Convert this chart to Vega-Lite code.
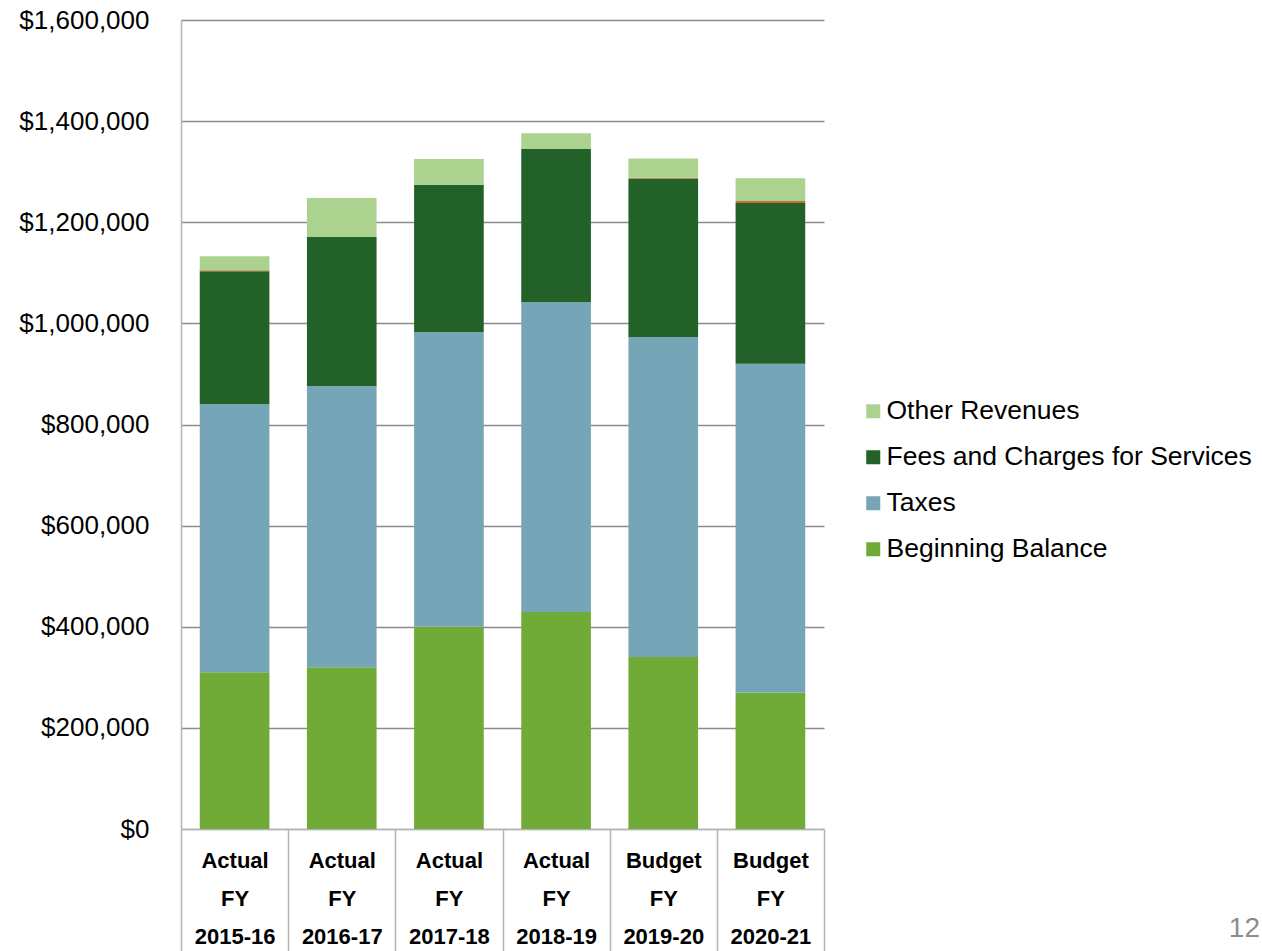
{
  "$schema": "https://vega.github.io/schema/vega-lite/v6.json",
  "width": 643,
  "height": 809,
  "autosize": "none",
  "padding": {"left": 181, "top": 20, "right": 438, "bottom": 122},
  "background": "white",
  "config": {"view": {"stroke": null}, "font": "Liberation Sans"},
  "title": {"text": "12", "orient": "top", "anchor": "end", "frame": "group", "dx": 436, "dy": 958, "offset": 0, "fontSize": 28, "fontWeight": "normal", "color": "#8c8c8c", "font": "Liberation Sans", "baseline": "alphabetic"},
  "data": {"values": [
    {"period": "Actual FY 2015-16", "series": "Beginning Balance", "level": 1, "amount": 310000},
    {"period": "Actual FY 2015-16", "series": "Taxes", "level": 2, "amount": 530000},
    {"period": "Actual FY 2015-16", "series": "Fees and Charges for Services", "level": 3, "amount": 263000},
    {"period": "Actual FY 2015-16", "series": "Intergovernmental", "level": 4, "amount": 2000},
    {"period": "Actual FY 2015-16", "series": "Other Revenues", "level": 5, "amount": 28000},
    {"period": "Actual FY 2016-17", "series": "Beginning Balance", "level": 1, "amount": 320000},
    {"period": "Actual FY 2016-17", "series": "Taxes", "level": 2, "amount": 556000},
    {"period": "Actual FY 2016-17", "series": "Fees and Charges for Services", "level": 3, "amount": 295000},
    {"period": "Actual FY 2016-17", "series": "Other Revenues", "level": 5, "amount": 77000},
    {"period": "Actual FY 2017-18", "series": "Beginning Balance", "level": 1, "amount": 400000},
    {"period": "Actual FY 2017-18", "series": "Taxes", "level": 2, "amount": 583000},
    {"period": "Actual FY 2017-18", "series": "Fees and Charges for Services", "level": 3, "amount": 291000},
    {"period": "Actual FY 2017-18", "series": "Other Revenues", "level": 5, "amount": 51000},
    {"period": "Actual FY 2018-19", "series": "Beginning Balance", "level": 1, "amount": 429000},
    {"period": "Actual FY 2018-19", "series": "Taxes", "level": 2, "amount": 613000},
    {"period": "Actual FY 2018-19", "series": "Fees and Charges for Services", "level": 3, "amount": 303000},
    {"period": "Actual FY 2018-19", "series": "Other Revenues", "level": 5, "amount": 31000},
    {"period": "Budget FY 2019-20", "series": "Beginning Balance", "level": 1, "amount": 340000},
    {"period": "Budget FY 2019-20", "series": "Taxes", "level": 2, "amount": 633000},
    {"period": "Budget FY 2019-20", "series": "Fees and Charges for Services", "level": 3, "amount": 313000},
    {"period": "Budget FY 2019-20", "series": "Intergovernmental", "level": 4, "amount": 2000},
    {"period": "Budget FY 2019-20", "series": "Other Revenues", "level": 5, "amount": 38000},
    {"period": "Budget FY 2020-21", "series": "Beginning Balance", "level": 1, "amount": 270000},
    {"period": "Budget FY 2020-21", "series": "Taxes", "level": 2, "amount": 650000},
    {"period": "Budget FY 2020-21", "series": "Fees and Charges for Services", "level": 3, "amount": 318000},
    {"period": "Budget FY 2020-21", "series": "Intergovernmental", "level": 4, "amount": 4000},
    {"period": "Budget FY 2020-21", "series": "Other Revenues", "level": 5, "amount": 45000}
  ]},
  "mark": {"type": "bar", "width": {"band": 0.65}},
  "encoding": {
    "x": {
      "field": "period", "type": "nominal", "sort": null,
      "scale": {"paddingInner": 0, "paddingOuter": 0},
      "axis": {
        "title": null,
        "labelExpr": "isValid(datum.value) && datum.value != 'undefined' ? [split(datum.value,' ')[0], split(datum.value,' ')[1], split(datum.value,' ')[2]] : ''",
        "labelFont": "Liberation Sans",
        "labelFontWeight": "bold",
        "labelFontSize": 22,
        "labelLineHeight": 38,
        "labelColor": "black",
        "labelAngle": 0,
        "labelBaseline": "top",
        "labelPadding": -101,
        "tickBand": "extent",
        "tickSize": 122,
        "tickColor": "#b4b4b4",
        "tickWidth": 1.5,
        "domainColor": "#b4b4b4",
        "domainWidth": 1.5
      }
    },
    "y": {
      "field": "amount", "type": "quantitative", "stack": "zero",
      "scale": {"domain": [0, 1600000], "nice": false},
      "axis": {
        "title": null,
        "format": "$,.0f",
        "values": [0, 200000, 400000, 600000, 800000, 1000000, 1200000, 1400000, 1600000],
        "grid": true,
        "gridColor": {"condition": {"test": "datum.value === 0", "value": "#b4b4b4"}, "value": "#8c8c8c"},
        "gridWidth": 1.5,
        "ticks": false,
        "labelPadding": 32,
        "labelFontSize": 26,
        "labelFont": "Liberation Sans",
        "labelColor": "black",
        "domainColor": "#b4b4b4",
        "domainWidth": 1.5
      }
    },
    "color": {
      "field": "series", "type": "nominal",
      "scale": {
        "domain": ["Other Revenues", "Fees and Charges for Services", "Taxes", "Beginning Balance", "Intergovernmental"],
        "range": ["#abd38f", "#226127", "#76a5b8", "#70ab38", "#c0712f"]
      },
      "legend": {
        "title": null,
        "orient": "none",
        "legendX": 679,
        "legendY": 378,
        "values": ["Other Revenues", "Fees and Charges for Services", "Taxes", "Beginning Balance"],
        "symbolType": "square",
        "symbolSize": 196,
        "symbolStrokeWidth": 0,
        "labelFontSize": 26.5,
        "labelFont": "Liberation Sans",
        "labelColor": "black",
        "labelLimit": 500,
        "rowPadding": 19,
        "labelOffset": 0,
        "padding": 0
      }
    },
    "order": {"field": "level", "type": "quantitative"}
  }
}
